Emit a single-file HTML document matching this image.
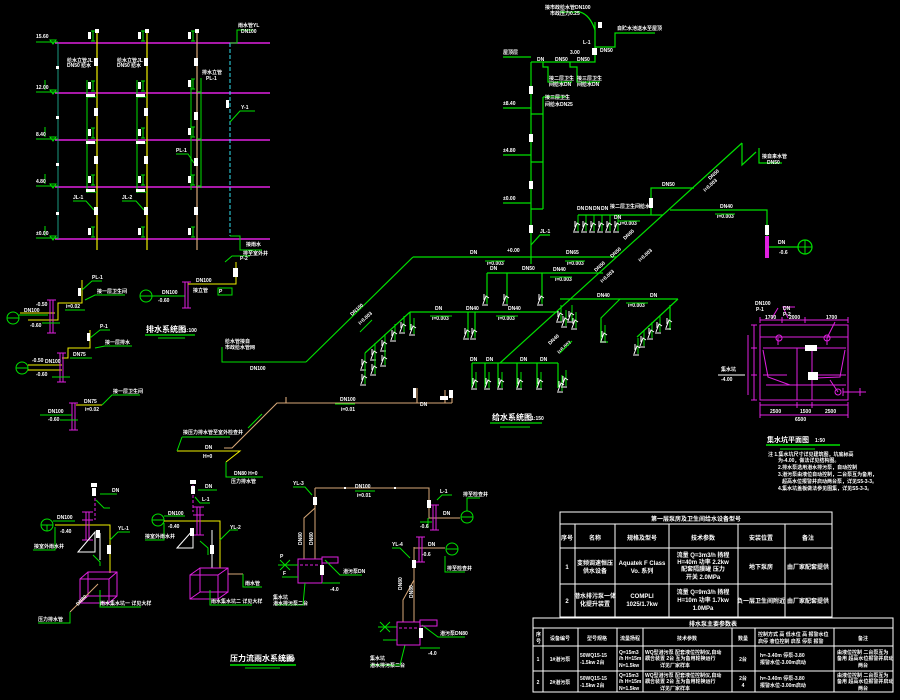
<!DOCTYPE html>
<html><head><meta charset="utf-8">
<style>
html,body{margin:0;padding:0;background:#000;}
svg{display:block}
text{font-family:"Liberation Sans","Noto Sans CJK SC",sans-serif;fill:#fff;font-weight:bold}
.t5{font-size:5px}
.t6{font-size:6px}
</style></head><body>
<svg width="900" height="700" viewBox="0 0 900 700" xmlns="http://www.w3.org/2000/svg">
<rect width="900" height="700" fill="#000"/>
<defs>
<g id="fx" fill="none" stroke-width="1">
<path d="M0 0 V16" stroke="#00e000"/>
<path d="M-4 16 L-1 8 L2 10 M-3 6 V12 M-5 17 H1" stroke="#fff"/>
</g>
<g id="vb" fill="none" stroke-width="1">
<path d="M0 0 V10 M-2 0 H2 M-2 10 H2" stroke="#00e000"/>
<rect x="-5" y="1" width="3" height="7" fill="#fff" stroke="none"/>
</g>
</defs>

<!-- ================= TOP-LEFT RISER DIAGRAM ================= -->
<g stroke="#e020e0" stroke-width="1.5">
<line x1="55" y1="43" x2="270" y2="43"/>
<line x1="55" y1="93" x2="270" y2="93"/>
<line x1="55" y1="140" x2="270" y2="140"/>
<line x1="55" y1="187" x2="270" y2="187"/>
<line x1="55" y1="239" x2="270" y2="239"/>
</g>
<line x1="58" y1="43" x2="58" y2="239" stroke="#1a9a80" stroke-width="1"/>
<g fill="none" stroke="#00e000" stroke-width="1">
<path d="M36 42 H58 M50 40 l6 0 l-3 4 z"/>
<path d="M36 92 H58 M50 90 l6 0 l-3 4 z M45 80 V90"/>
<path d="M36 139 H58 M50 137 l6 0 l-3 4 z M45 127 V137"/>
<path d="M36 186 H58 M50 184 l6 0 l-3 4 z M45 174 V184"/>
<path d="M36 238 H58 M50 236 l6 0 l-3 4 z M45 226 V236"/>
</g>
<text x="36" y="38" class="t5">15.60</text>
<text x="36" y="89" class="t5">12.00</text>
<text x="36" y="136" class="t5">8.40</text>
<text x="36" y="183" class="t5">4.80</text>
<text x="36" y="235" class="t5">±0.00</text>
<g fill="#fff"><rect x="56" y="66" width="3" height="3"/><rect x="56" y="116" width="3" height="3"/><rect x="56" y="163" width="3" height="3"/><rect x="56" y="212" width="3" height="3"/></g>

<g stroke="#f0f000" stroke-width="1.2">
<line x1="97" y1="30" x2="97" y2="250"/>
<line x1="147" y1="30" x2="147" y2="250"/>
</g>
<line x1="197" y1="30" x2="197" y2="250" stroke="#d8a878" stroke-width="1.2"/>
<g fill="none" stroke="#00e000" stroke-width="1">
<path d="M87 80 V193 M87 97 H97 M87 143 H97 M87 192 H97"/>
<path d="M137 80 V193 M137 97 H147 M137 143 H147 M137 192 H147"/>
<path d="M191 80 V190 M201 78 V188 M197 92 H201 M197 139 H201 M197 186 H201"/>
<path d="M73 201 H86 L94 210 M122 201 H136 L144 210 M176 154 H188 L194 163"/>
</g>
<g fill="#fff">
<rect x="95" y="29" width="4" height="4"/><rect x="145" y="29" width="4" height="4"/><rect x="195" y="29" width="4" height="4"/>
</g>
<use href="#vb" x="93" y="31"/><use href="#vb" x="143" y="31"/><use href="#vb" x="193" y="31"/>
<use href="#vb" x="93" y="81"/><use href="#vb" x="143" y="81"/><use href="#vb" x="193" y="79"/>
<use href="#vb" x="93" y="128"/><use href="#vb" x="143" y="128"/><use href="#vb" x="193" y="127"/>
<use href="#vb" x="93" y="175"/><use href="#vb" x="143" y="175"/><use href="#vb" x="193" y="175"/>
<use href="#vb" x="93" y="227"/><use href="#vb" x="143" y="227"/><use href="#vb" x="193" y="227"/>
<g fill="#fff">
<rect x="94" y="58" width="4" height="8"/><rect x="144" y="58" width="4" height="8"/><rect x="194" y="58" width="4" height="8"/>
<rect x="94" y="108" width="4" height="8"/><rect x="144" y="108" width="4" height="8"/><rect x="194" y="112" width="4" height="8"/>
<rect x="94" y="156" width="4" height="8"/><rect x="144" y="156" width="4" height="8"/><rect x="194" y="158" width="4" height="8"/>
<rect x="94" y="207" width="4" height="8"/><rect x="144" y="207" width="4" height="8"/><rect x="194" y="207" width="4" height="8"/>
<rect x="86" y="94" width="9" height="3"/><rect x="136" y="94" width="9" height="3"/>
<rect x="86" y="141" width="9" height="3"/><rect x="136" y="141" width="9" height="3"/>
<rect x="86" y="189" width="9" height="3"/><rect x="136" y="189" width="9" height="3"/>
</g>
<text x="67" y="62" class="t5">给水立管JL</text><text x="67" y="67" class="t5">DN50 给水</text>
<text x="117" y="62" class="t5">给水立管JL</text><text x="117" y="67" class="t5">DN50 给水</text>
<text x="202" y="74" class="t5">排水立管</text><text x="206" y="80" class="t5">PL-1</text>
<text x="73" y="199" class="t5">JL-1</text><text x="122" y="199" class="t5">JL-2</text><text x="176" y="152" class="t5">PL-1</text>
<g fill="none" stroke="#30e0f0" stroke-width="1">
<path d="M230 43 V236" stroke-dasharray="4 2"/>
</g>
<g fill="none" stroke="#00e000" stroke-width="1">
<path d="M230 43 H237 V30 H253 M230 236 H240 V250 H262 M230 122 L240 111 H255"/>
</g>
<rect x="226" y="100" width="3" height="8" fill="#fff"/>
<text x="238" y="27" class="t5">雨水管YL</text><text x="241" y="33" class="t5">DN100</text>
<text x="246" y="246" class="t5">接雨水</text><text x="243" y="255" class="t5">排至室外井</text>
<text x="241" y="109" class="t5">Y-1</text>

<!-- ================= MID-LEFT DRAINAGE ================= -->
<g fill="none" stroke-width="1">
<circle cx="13" cy="318" r="6" stroke="#00e000"/>
<path d="M7 318 H19" stroke="#00e000"/>
<path d="M19 315 H48" stroke="#00e000"/>
<path d="M20 313 H55 M28 320 H58 V303 H82 V280" stroke="#f0f000"/>
<path d="M50 300 V333 M53 300 V333 M47 300 H56 M47 333 H56" stroke="#e020e0"/>
<path d="M82 290 L92 281 H102 M85 300 L95 295 H125 M65 310 H85 M42 323 H60" stroke="#00e000"/>
<rect x="78" y="288" width="3" height="8" fill="#fff" stroke="none"/>
</g>
<text x="24" y="312" class="t5">DN100</text><text x="36" y="306" class="t5">-0.50</text><text x="30" y="327" class="t5">-0.60</text>
<text x="92" y="279" class="t5">PL-1</text><text x="97" y="293" class="t5">接一层卫生间</text><text x="66" y="308" class="t5">i=0.02</text>

<g fill="none" stroke-width="1">
<circle cx="22" cy="368" r="6" stroke="#00e000"/>
<path d="M16 368 H28" stroke="#00e000"/>
<path d="M28 365 H62 M28 370 H62 M62 358 H68 V348 H90 V330" stroke="#f0f000"/>
<path d="M60 353 V382 M63 353 V382 M57 353 H66 M57 382 H66" stroke="#e020e0"/>
<path d="M90 338 L100 330 H110 M95 348 L105 346 H132 M70 358 H92 M52 377 H70" stroke="#00e000"/>
<rect x="87" y="333" width="3" height="8" fill="#fff" stroke="none"/>
</g>
<text x="32" y="362" class="t5">-0.50</text><text x="45" y="363" class="t5">DN100</text><text x="36" y="376" class="t5">-0.60</text>
<text x="100" y="328" class="t5">P-1</text><text x="105" y="344" class="t5">接一层排水</text><text x="73" y="356" class="t5">DN75</text>

<g fill="none" stroke-width="1">
<path d="M72 403 V430 M75 403 V430 M69 403 H78 M69 430 H78" stroke="#e020e0"/>
<path d="M76 405 H102" stroke="#f0f000"/>
<path d="M40 415 H72 M102 405 L112 395 H140 M60 420 H78" stroke="#00e000"/>
</g>
<text x="84" y="403" class="t5">DN75</text><text x="85" y="411" class="t5">i=0.02</text>
<text x="113" y="393" class="t5">接一层卫生间</text><text x="48" y="413" class="t5">DN100</text><text x="48" y="421" class="t5">-0.60</text>

<g fill="none" stroke-width="1">
<circle cx="146" cy="296" r="6" stroke="#00e000"/>
<path d="M140 296 H152" stroke="#00e000"/>
<path d="M152 296 H185 M218 288 H232 V295 H218 Z M225 262 L232 256 H250" stroke="#00e000"/>
<path d="M185 282 V308 M188 282 V308 M182 282 H191 M182 308 H191" stroke="#e020e0"/>
<path d="M188 284 H236 V262" stroke="#f0f000"/>
<rect x="233" y="268" width="5" height="9" fill="#fff" stroke="none"/>
</g>
<text x="162" y="294" class="t5">DN100</text><text x="158" y="302" class="t5">-0.60</text>
<text x="196" y="282" class="t5">DN100</text><text x="193" y="292" class="t5">接立管</text><text x="240" y="260" class="t5">P-2</text>
<text x="219" y="293" class="t5">P</text>

<!-- drainage title -->
<text x="146" y="332" font-size="8">排水系统图</text><text x="184" y="332" class="t5">1:100</text>
<g stroke="#00e000"><line x1="145" y1="335" x2="195" y2="335" stroke-width="1.3"/><line x1="158" y1="338" x2="185" y2="338"/></g>

<!-- connector to water supply -->
<g fill="none" stroke="#00e000" stroke-width="1">
<path d="M222 347 V362 H306"/>
</g>
<text x="225" y="343" class="t5">给水管接自</text><text x="225" y="349" class="t5">市政给水管网</text>
<text x="250" y="370" class="t5">DN100</text>

<!-- ================= MAIN WATER SUPPLY ISO ================= -->
<g fill="none" stroke="#00e000" stroke-width="1.2">
<path d="M531 62 V264"/>
<path d="M531 62 H595 V22"/>
<path d="M595 30 Q590 15 580 12 H560"/>
<path d="M595 47 H615 V33 H655"/>
<path d="M543 62 V67 H548 V82 H572"/>
<path d="M570 62 V67 H577 V82 H600"/>
<path d="M543 97 V209 M543 97 H566"/>
<path d="M531 114 H543 M531 162 H543 M531 209 H543"/>
<path d="M503 57 H531 M503 108 H531 M503 155 H531 M503 203 H531"/>
<path d="M531 245 L540 235 H550"/>
<path d="M413 257 H617"/>
<path d="M413 257 L306 362"/>
<path d="M742 143 L500 363"/>
<path d="M742 143 V165 L756 152 M759 148 V163 H782"/>
<path d="M487 273 H603"/>
<path d="M487 273 V302 M507 273 V302 M542 273 V302"/>
<path d="M410 312 H558"/>
<path d="M410 312 L365 353"/>
<path d="M472 363 H558"/>
<path d="M472 363 V388 M485 363 V388 M498 363 V388 M517 363 V388 M537 363 V388 M558 363 V388"/>
<path d="M560 299 H678"/>
<path d="M620 299 L601 318 V342 H608"/>
<path d="M678 299 L637 337"/>
<path d="M670 305 V330"/>
<path d="M578 215 H663 M651 215 V188 H694"/>
<path d="M670 210 H767 V247 H798"/>
<path d="M468 312 V336 M475 312 V336"/>
<path d="M410 312 V330"/>
</g>
<circle cx="805" cy="247" r="7" fill="none" stroke="#00e000" stroke-width="1.2"/>
<path d="M805 240 V254 M798 247 H812" stroke="#00e000" stroke-width="1"/>
<g fill="#fff">
<rect x="529" y="86" width="4" height="8"/><rect x="529" y="134" width="4" height="8"/><rect x="529" y="181" width="4" height="8"/><rect x="529" y="225" width="4" height="8"/>
<rect x="649" y="198" width="4" height="10"/><rect x="765" y="225" width="4" height="10"/>
<rect x="765" y="236" width="4" height="22" fill="#e020e0"/>
<rect x="598" y="22" width="4" height="6"/><rect x="592" y="48" width="5" height="7"/>
</g>
<!-- fixtures -->
<use href="#fx" x="578" y="215"/><use href="#fx" x="586" y="215"/><use href="#fx" x="594" y="215"/><use href="#fx" x="602" y="215"/><use href="#fx" x="610" y="215"/><use href="#fx" x="618" y="215"/>
<use href="#fx" x="487" y="288"/><use href="#fx" x="507" y="288"/><use href="#fx" x="542" y="288"/>
<use href="#fx" x="468" y="322"/><use href="#fx" x="475" y="322"/>
<use href="#fx" x="365" y="353"/><use href="#fx" x="375" y="343"/><use href="#fx" x="385" y="334"/><use href="#fx" x="395" y="324"/><use href="#fx" x="404" y="316"/>
<use href="#fx" x="365" y="368"/><use href="#fx" x="375" y="358"/><use href="#fx" x="385" y="349"/>
<use href="#fx" x="414" y="318"/>
<use href="#fx" x="476" y="372"/><use href="#fx" x="489" y="372"/><use href="#fx" x="502" y="372"/><use href="#fx" x="521" y="372"/><use href="#fx" x="541" y="372"/><use href="#fx" x="562" y="375"/>
<use href="#fx" x="561" y="305"/><use href="#fx" x="566" y="310"/><use href="#fx" x="572" y="305"/><use href="#fx" x="576" y="312"/>
<use href="#fx" x="605" y="325"/>
<use href="#fx" x="670" y="312"/><use href="#fx" x="660" y="316"/><use href="#fx" x="652" y="322"/><use href="#fx" x="644" y="330"/><use href="#fx" x="638" y="338"/>
<use href="#fx" x="566" y="370"/>
<!-- main labels -->
<text x="545" y="9" class="t5">接市政给水管DN100</text><text x="550" y="15" class="t5">市政压力0.25</text>
<text x="617" y="30" class="t5">自贮水池送水至屋顶</text>
<text x="583" y="44" class="t5">L-1</text><text x="600" y="52" class="t5">DN50</text>
<text x="503" y="54" class="t5">屋顶层</text><text x="570" y="54" class="t5">3.00</text>
<text x="537" y="61" class="t5">DN</text><text x="555" y="61" class="t5">DN50</text><text x="577" y="61" class="t5">DN50</text>
<text x="549" y="80" class="t5">接二层卫生</text><text x="549" y="86" class="t5">间给水DN</text>
<text x="577" y="80" class="t5">接三层卫生</text><text x="577" y="86" class="t5">间给水DN</text>
<text x="545" y="99" class="t5">接三层卫生</text><text x="545" y="106" class="t5">间给水DN25</text>
<text x="503" y="105" class="t5">±8.40</text><text x="503" y="152" class="t5">±4.80</text><text x="503" y="200" class="t5">±0.00</text>
<text x="540" y="233" class="t5">JL-1</text>
<text x="470" y="254" class="t5">DN</text><text x="507" y="252" class="t5">+0.00</text><text x="566" y="254" class="t5">DN65</text>
<text x="487" y="265" class="t5">i=0.003</text><text x="567" y="265" class="t5">i=0.003</text>
<text x="490" y="270" class="t5">DN</text><text x="522" y="270" class="t5">DN50</text><text x="553" y="271" class="t5">DN40</text>
<text x="555" y="281" class="t5">i=0.003</text>
<text x="435" y="310" class="t5">DN</text><text x="466" y="310" class="t5">DN40</text><text x="508" y="310" class="t5">DN40</text>
<text x="432" y="320" class="t5">i=0.003</text><text x="498" y="320" class="t5">i=0.003</text>
<text x="470" y="361" class="t5">DN</text><text x="486" y="361" class="t5">DN</text><text x="520" y="361" class="t5">DN</text><text x="540" y="361" class="t5">DN</text>
<text x="597" y="297" class="t5">DN40</text><text x="650" y="297" class="t5">DN</text><text x="628" y="307" class="t5">i=0.003</text>
<text x="610" y="208" class="t5">接二层卫生间给水</text>
<text x="577" y="210" class="t5">DN</text><text x="585" y="210" class="t5">DN</text><text x="593" y="210" class="t5">DN</text><text x="601" y="210" class="t5">DN</text>
<text x="614" y="219" class="t5">DN</text><text x="620" y="225" class="t5">i=0.003</text>
<text x="662" y="186" class="t5">DN50</text>
<text x="720" y="208" class="t5">DN40</text><text x="717" y="218" class="t5">i=0.003</text>
<text x="778" y="244" class="t5">DN</text><text x="779" y="254" class="t5">-0.6</text>
<text x="762" y="158" class="t5">接自来水管</text><text x="767" y="164" class="t5">DN50</text>
<text transform="translate(710,180) rotate(-42)" class="t5">DN50</text>
<text transform="translate(705,192) rotate(-42)" class="t5">i=0.003</text>
<text transform="translate(625,240) rotate(-42)" class="t5">DN65</text>
<text transform="translate(612,258) rotate(-42)" class="t5">DN50</text>
<text transform="translate(640,262) rotate(-42)" class="t5">i=0.003</text>
<text transform="translate(596,272) rotate(-42)" class="t5">DN50</text>
<text transform="translate(602,283) rotate(-42)" class="t5">i=0.003</text>
<text transform="translate(550,345) rotate(-42)" class="t5">DN40</text>
<text transform="translate(559,354) rotate(-42)" class="t5">i=0.003</text>
<text transform="translate(352,316) rotate(-42)" class="t5">DN100</text>
<text transform="translate(360,325) rotate(-42)" class="t5">i=0.003</text>
<g stroke="#00e000" stroke-width="1">
<line x1="485" y1="261" x2="505" y2="261"/><line x1="565" y1="261" x2="585" y2="261"/>
<line x1="430" y1="316" x2="452" y2="316"/><line x1="496" y1="316" x2="518" y2="316"/>
<line x1="550" y1="277" x2="572" y2="277"/><line x1="626" y1="303" x2="648" y2="303"/>
<line x1="618" y1="221" x2="640" y2="221"/><line x1="715" y1="214" x2="735" y2="214"/>
<line x1="360" y1="332" x2="372" y2="320"/><line x1="560" y1="353" x2="572" y2="341"/>
</g>
<!-- water supply title -->
<text x="492" y="420" font-size="8">给水系统图</text><text x="531" y="420" class="t5">1:150</text>
<g stroke="#00e000"><line x1="490" y1="423" x2="542" y2="423" stroke-width="1.3"/><line x1="500" y1="427" x2="530" y2="427"/></g>

<!-- tan horizontal -->
<g fill="none" stroke="#d8a878" stroke-width="1.1">
<path d="M287 403 H452 M286 397 V403 M417 388 V403 M445 390 V403 M452 393 V403"/>
<path d="M287 403 H277 L232 448 H224"/>
</g>
<g fill="#fff"><rect x="413" y="388" width="3" height="10"/><rect x="440" y="396" width="8" height="4"/><rect x="449" y="390" width="4" height="8"/></g>
<text x="340" y="401" class="t5">DN100</text><text x="341" y="411" class="t5">i=0.01</text>
<line x1="335" y1="404" x2="355" y2="404" stroke="#00e000"/>
<text x="420" y="406" class="t5">DN</text>
<g fill="none" stroke-width="1">
<path d="M177 451 H240 L226 462" stroke="#f0f000"/>
<path d="M182 437 H230 M182 437 L177 451 M226 462 V477 H263 M248 428 L262 414" stroke="#00e000"/>
</g>
<text x="183" y="434" class="t5">接压力排水管至室外检查井</text>
<text x="205" y="449" class="t5">DN</text><text x="203" y="458" class="t5">H=0</text>
<text x="234" y="475" class="t5">DN80 H=0</text><text x="231" y="483" class="t5">压力排水管</text>

<!-- ================= PRESSURE RAIN / SUMP SECTION ================= -->
<!-- group 1 -->
<g fill="none" stroke-width="1">
<circle cx="47" cy="525" r="6" stroke="#00e000"/>
<path d="M41 525 H53 M47 525 V531" stroke="#00e000"/>
<path d="M53 521 H75 M55 527 V550 H33" stroke="#00e000"/>
<path d="M55 525 H110 V573" stroke="#f0f000"/>
<path d="M86 512 V540 M89 512 V540 M82 512 H93 M82 540 H93 M82 520 H93" stroke="#e020e0"/>
<path d="M95 488 V520" stroke="#e020e0" stroke-dasharray="3 2"/>
<path d="M100 533 V560 M78 552 L95 532 V552 Z" stroke="#fff"/>
<path d="M110 540 L118 532 H130 M100 494 H117 M96 500 L104 508 H110 M93 555 L100 562 V566" stroke="#00e000"/>
<path d="M80 579 H109 V603 H80 Z M88 572 H117 V596 H88 Z M80 579 L88 572 M109 579 L117 572 M109 603 L117 596 M80 603 L88 596" stroke="#e020e0"/>
<path d="M100 590 V607 H141" stroke="#00e000"/>
<path d="M70 612 L98 584" stroke="#d8a878"/>
<path d="M70 612 V623 H38" stroke="#00e000"/>
</g>
<g fill="#fff"><rect x="91" y="483" width="6" height="4"/><rect x="92" y="488" width="4" height="8"/><rect x="96" y="530" width="4" height="8"/><rect x="107" y="545" width="4" height="9"/></g>
<text x="57" y="519" class="t5">DN100</text><text x="60" y="533" class="t5">-0.40</text>
<text x="34" y="548" class="t5">接室外雨水井</text>
<text x="112" y="492" class="t5">DN</text><text x="118" y="530" class="t5">YL-1</text>
<text x="100" y="605" class="t5">雨水集水坑一 详见大样</text>
<text x="38" y="621" class="t5">压力排水管</text>
<text transform="translate(78,606) rotate(-45)" class="t5">DN80</text>

<!-- group 2 -->
<g fill="none" stroke-width="1">
<circle cx="158" cy="520" r="6" stroke="#00e000"/>
<path d="M152 520 H164" stroke="#00e000"/>
<path d="M164 516 H185 M164 523 V540 H145" stroke="#00e000"/>
<path d="M164 521 H220 V568" stroke="#f0f000"/>
<path d="M197 507 V535 M200 507 V535 M193 507 H204 M193 535 H204 M193 515 H204" stroke="#e020e0"/>
<path d="M193 485 V512" stroke="#e020e0" stroke-dasharray="3 2"/>
<path d="M212 530 V568 M177 548 L193 530 V548 Z" stroke="#fff"/>
<path d="M220 540 L230 530 H238 M198 490 H217 M195 497 L200 503 H210 M200 541 L208 548 V555" stroke="#00e000"/>
<path d="M190 575 H218 V599 H190 Z M200 568 H228 V592 H200 Z M190 575 L200 568 M218 575 L228 568 M218 599 L228 592 M190 599 L200 592" stroke="#e020e0"/>
<path d="M228 574 H243" stroke="#d8a878"/>
<path d="M243 574 V587 H262 M210 590 V605 H252" stroke="#00e000"/>
</g>
<g fill="#fff"><rect x="190" y="480" width="6" height="4"/><rect x="191" y="486" width="4" height="8"/><rect x="190" y="528" width="4" height="8"/><rect x="210" y="545" width="4" height="9"/></g>
<text x="168" y="515" class="t5">DN100</text><text x="168" y="528" class="t5">-0.40</text>
<text x="145" y="538" class="t5">接室外雨水井</text>
<text x="205" y="488" class="t5">DN</text><text x="202" y="501" class="t5">L-1</text><text x="230" y="529" class="t5">YL-2</text>
<text x="245" y="585" class="t5">雨水管</text>
<text x="211" y="603" class="t5">雨水集水坑二 详见大样</text>

<!-- group 3 -->
<g fill="none" stroke-width="1">
<path d="M315 488 H429 V518 H460 M315 488 V559 M315 508 L304 518 V559" stroke="#d8a878"/>
<path d="M298 559 H322 V583 H298 Z M322 557 H338 V563 H322 Z" stroke="#e020e0"/>
<path d="M300 565 H320" stroke="#e020e0" stroke-dasharray="3 2"/>
<path d="M280 560 L290 570 M280 570 L290 560 M278 565 H298 M282 577 H298 M325 560 L340 575 H362 M322 583 H340 M305 583 L303 605 H275 M293 487 H305 L312 495 M428 518 V528" stroke="#00e000"/>
<path d="M433 505 V530 M436 505 V530 M430 505 H439 M430 530 H439" stroke="#e020e0"/>
<circle cx="467" cy="517" r="6" stroke="#00e000"/>
<path d="M461 517 H473 M467 511 V498 H480 M437 500 L442 495 H452 M420 522 H432" stroke="#00e000"/>
<path d="M355 491 H375" stroke="#00e000"/>
</g>
<g fill="#fff"><rect x="313" y="497" width="4" height="8"/><rect x="427" y="500" width="4" height="8"/><rect x="344" y="487" width="2" height="2"/><rect x="394" y="487" width="2" height="2"/><rect x="320" y="565" width="4" height="10"/></g>
<text x="293" y="485" class="t5">YL-3</text>
<text x="355" y="488" class="t5">DN100</text><text x="357" y="497" class="t5">i=0.01</text>
<text x="463" y="496" class="t5">排至检查井</text><text x="440" y="493" class="t5">L-1</text>
<text x="443" y="515" class="t5">DN</text><text x="420" y="528" class="t5">-0.6</text>
<text x="343" y="573" class="t5">潜污泵DN</text><text x="330" y="591" class="t5">-4.0</text>
<text x="273" y="599" class="t5">集水坑</text><text x="273" y="605" class="t5">潜水排污泵二台</text>
<text x="280" y="558" class="t5">P</text><text x="283" y="575" class="t5">F</text>
<text transform="translate(302,545) rotate(-90)" class="t5">DN80</text>
<text transform="translate(313,545) rotate(-90)" class="t5">DN80</text>

<!-- group 4 -->
<g fill="none" stroke-width="1">
<path d="M414 547 V622 M414 548 H445 M414 580 L403 600 V622" stroke="#d8a878"/>
<path d="M419 537 V562 M422 537 V562 M416 537 H425 M416 562 H425" stroke="#e020e0"/>
<circle cx="452" cy="549" r="6" stroke="#00e000"/>
<path d="M446 549 H458 M445 556 V572 H465 M392 548 H400 L410 558 M420 620 H437 M422 625 L438 637 H465 M405 645 L400 665 H370 M420 648 H440 M380 622 L390 632 M380 632 L390 622 M378 627 H397 M383 640 H397" stroke="#00e000"/>
<path d="M397 622 H420 V645 H397 Z M420 620 H437 V626 H420 Z" stroke="#e020e0"/>
<path d="M399 628 H418" stroke="#e020e0" stroke-dasharray="3 2"/>
</g>
<g fill="#fff"><rect x="412" y="560" width="4" height="8"/><rect x="419" y="628" width="4" height="10"/></g>
<text x="392" y="546" class="t5">YL-4</text><text x="428" y="546" class="t5">DN</text><text x="422" y="556" class="t5">-0.6</text>
<text x="447" y="570" class="t5">排至检查井</text>
<text x="440" y="635" class="t5">潜污泵DN80</text><text x="428" y="655" class="t5">-4.0</text>
<text x="370" y="660" class="t5">集水坑</text><text x="370" y="667" class="t5">潜水排污泵二台</text>
<text transform="translate(402,590) rotate(-90)" class="t5">DN80</text>
<text transform="translate(413,598) rotate(-90)" class="t5">DN80</text>

<!-- pressure rain title -->
<text x="230" y="661" font-size="8">压力流雨水系统图</text><text x="282" y="661" class="t5">1:100</text>
<g stroke="#00e000"><line x1="230" y1="665" x2="296" y2="665" stroke-width="1.5"/><line x1="245" y1="668" x2="280" y2="668"/></g>

<!-- ================= COLLECTING PIT ================= -->
<g fill="none" stroke="#e020e0" stroke-width="1">
<path d="M760 325 H848 V400 H760 Z"/>
<path d="M763 348 H846 M760 337 H848"/>
<path d="M797 348 V400 M812 348 V400"/>
<path d="M760 320 H848 M760 317 V323 M782 317 V323 M805 317 V323 M848 317 V323"/>
<path d="M754 325 V400 M751 325 H757 M751 348 H757 M751 375 H757 M751 400 H757"/>
<path d="M748 335 V395"/>
<path d="M760 405 H848 M760 415 H848 M760 402 V418 M797 402 V408 M812 402 V408 M848 402 V418"/>
<path d="M763 350 L768 377 L790 385 M763 375 H787"/>
<path d="M845 350 L840 377 L815 378 M812 375 H846"/>
<path d="M766 385 H846"/>
<path d="M843 392 H866 M843 388 V396 M860 388 V396"/>
<path d="M772 318 L778 308 M788 318 L783 307 H795"/>
<path d="M778 338 V345 M827 338 V345 M827 338 L835 322"/>
<path d="M830 380 L838 392"/>
</g>
<g fill="none" stroke="#e020e0" stroke-width="1">
<circle cx="779" cy="338" r="3"/><circle cx="827" cy="338" r="3"/><circle cx="838" cy="392" r="3"/>
</g>
<rect x="805" y="345" width="12" height="6" fill="#fff"/>
<rect x="808" y="372" width="10" height="8" fill="#fff"/>
<text x="755" y="305" class="t5">DN100</text><text x="756" y="311" class="t5">P-1</text>
<text x="783" y="310" class="t5">DN</text><text x="783" y="316" class="t5">P-2</text>
<text x="765" y="319" class="t5">1700</text><text x="789" y="319" class="t5">2000</text><text x="826" y="319" class="t5">1700</text>
<text x="770" y="413" class="t5">2500</text><text x="800" y="413" class="t5">1500</text><text x="825" y="413" class="t5">2500</text>
<text x="795" y="421" class="t5">6500</text>
<text x="721" y="371" class="t5">集水坑</text>
<line x1="718" y1="375" x2="745" y2="375" stroke="#fff"/>
<text x="721" y="381" class="t5">-4.00</text>
<!-- pit title & notes -->
<text x="767" y="442" font-size="7">集水坑平面图</text><text x="815" y="442" class="t5">1:50</text>
<g stroke="#00e000"><line x1="766" y1="445" x2="840" y2="445" stroke-width="1.5"/><line x1="780" y1="449" x2="815" y2="449"/></g>
<text x="768" y="456" class="t5">注 1.集水坑尺寸详见建筑图，坑底标高</text>
<text x="778" y="462" class="t5">为-4.00，做法详见结构图。</text>
<text x="778" y="469" class="t5">2.排水泵选用潜水排污泵，自动控制</text>
<text x="778" y="476" class="t5">3.潜污泵由液位自动控制，二台泵互为备用，</text>
<text x="782" y="483" class="t5">超高水位报警并启动两台泵，详见S5-3-3。</text>
<text x="778" y="490" class="t5">4.集水坑盖板做法参见图集，详见S5-3-3。</text>

<!-- ================= TABLE 1 ================= -->
<g fill="none" stroke="#fff" stroke-width="1">
<rect x="560" y="512" width="272" height="105"/>
<path d="M560 524 H832 M560 548 H832 M560 584 H832"/>
<path d="M575 524 V617 M615 524 V617 M669 524 V617 M738 524 V617 M785 524 V617"/>
</g>
<text x="696" y="521" class="t6" text-anchor="middle">第一层泵房及卫生间给水设备型号</text>
<g class="t6" text-anchor="middle">
<text x="567" y="540" text-anchor="middle">序号</text>
<text x="595" y="540" text-anchor="middle">名称</text>
<text x="642" y="540" text-anchor="middle">规格及型号</text>
<text x="703" y="540" text-anchor="middle">技术参数</text>
<text x="761" y="540" text-anchor="middle">安装位置</text>
<text x="808" y="540" text-anchor="middle">备注</text>
<text x="567" y="569" text-anchor="middle">1</text>
<text x="595" y="565" text-anchor="middle">变频调速恒压</text><text x="595" y="573" text-anchor="middle">供水设备</text>
<text x="642" y="565" text-anchor="middle">Aquatek F Class</text><text x="642" y="573" text-anchor="middle">Vo. 系列</text>
<text x="703" y="557" text-anchor="middle">流量 Q=3m3/h 扬程</text><text x="703" y="564" text-anchor="middle">H=40m 功率 2.2kw</text><text x="703" y="571" text-anchor="middle">配套隔膜罐 压力</text><text x="703" y="579" text-anchor="middle">开关 2.0MPa</text>
<text x="761" y="569" text-anchor="middle">地下泵房</text>
<text x="808" y="569" text-anchor="middle">由厂家配套提供</text>
<text x="567" y="603" text-anchor="middle">2</text>
<text x="595" y="598" text-anchor="middle">潜水排污泵一体</text><text x="595" y="606" text-anchor="middle">化提升装置</text>
<text x="642" y="598" text-anchor="middle">COMPLI</text><text x="642" y="606" text-anchor="middle">1025/1.7kw</text>
<text x="703" y="594" text-anchor="middle">流量 Q=9m3/h 扬程</text><text x="703" y="602" text-anchor="middle">H=10m 功率 1.7kw</text><text x="703" y="610" text-anchor="middle">1.0MPa</text>
<text x="761" y="603" text-anchor="middle">负一层卫生间附近</text>
<text x="808" y="603" text-anchor="middle">由厂家配套提供</text>
</g>

<!-- ================= TABLE 2 ================= -->
<g fill="none" stroke="#fff" stroke-width="1">
<rect x="533" y="618" width="360" height="74"/>
<path d="M533 628 H893 M533 646 H893 M533 671 H893"/>
<path d="M543 628 V692 M578 628 V692 M617 628 V692 M643 628 V692 M732 628 V692 M755 628 V692 M834 628 V692"/>
</g>
<text x="713" y="626" class="t6" text-anchor="middle">排水泵主要参数表</text>
<g class="t5">
<text x="536" y="636">序</text><text x="536" y="643">号</text>
<text x="560" y="640" text-anchor="middle">设备编号</text>
<text x="597" y="640" text-anchor="middle">型号规格</text>
<text x="630" y="640" text-anchor="middle">流量扬程</text>
<text x="687" y="640" text-anchor="middle">技术参数</text>
<text x="743" y="640" text-anchor="middle">数量</text>
<text x="758" y="636">控制方式 高 低水位 高 报警水位</text><text x="758" y="643">启停 液位控制 启泵 停泵 报警</text>
<text x="863" y="640" text-anchor="middle">备注</text>
<text x="538" y="661" text-anchor="middle">1</text>
<text x="560" y="661" text-anchor="middle">1#潜污泵</text>
<text x="580" y="657">50WQ15-15</text><text x="580" y="664">-1.5kw 2台</text>
<text x="619" y="654">Q=15m3</text><text x="619" y="660">/h H=15m</text><text x="619" y="667">N=1.5kw</text>
<text x="645" y="654">WQ型潜污泵 配套液位控制仪,自动</text><text x="645" y="660">耦合装置 2台 互为备用轮换运行</text><text x="660" y="667">详见厂家样本</text>
<text x="743" y="661" text-anchor="middle">2台</text>
<text x="760" y="657">h=-3.40m 停泵-3.80</text><text x="760" y="664">报警水位-3.00m启动</text>
<text x="837" y="654">由液位控制 二台泵互为</text><text x="837" y="660">备用 超高水位报警并启动</text><text x="858" y="667">两台</text>
<text x="538" y="684" text-anchor="middle">2</text>
<text x="560" y="684" text-anchor="middle">2#潜污泵</text>
<text x="580" y="680">50WQ15-15</text><text x="580" y="687">-1.5kw 2台</text>
<text x="619" y="677">Q=15m3</text><text x="619" y="683">/h H=15m</text><text x="619" y="690">N=1.5kw</text>
<text x="645" y="677">WQ型潜污泵 配套液位控制仪,自动</text><text x="645" y="683">耦合装置 2台 互为备用轮换运行</text><text x="660" y="690">详见厂家样本</text>
<text x="743" y="680" text-anchor="middle">2台</text><text x="743" y="687" text-anchor="middle">4</text>
<text x="760" y="680">h=-3.40m 停泵-3.80</text><text x="760" y="687">报警水位-3.00m启动</text>
<text x="837" y="677">由液位控制 二台泵互为</text><text x="837" y="683">备用 超高水位报警并启动</text><text x="858" y="690">两台</text>
</g>
</svg>
</body></html>
